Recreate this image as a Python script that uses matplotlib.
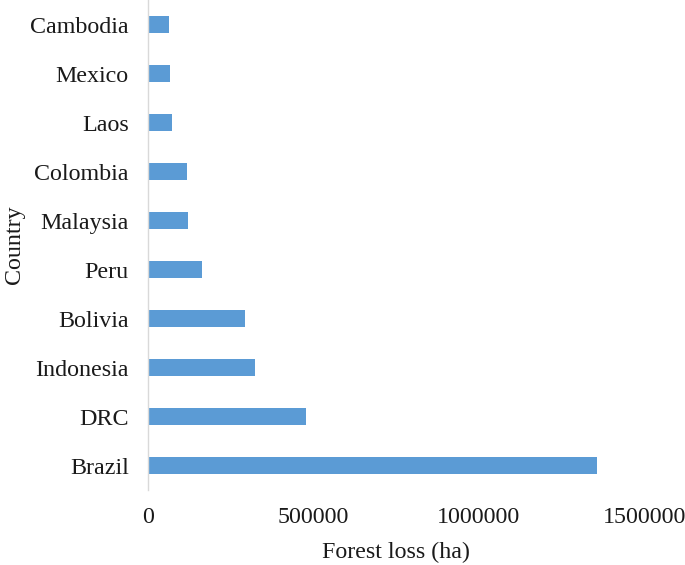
#imports
import matplotlib
matplotlib.use('Agg')
from matplotlib import pyplot as plt

#data (forest loss in hectares)
countries = ['Brazil', 'DRC', 'Indonesia', 'Bolivia', 'Peru',
             'Malaysia', 'Colombia', 'Laos', 'Mexico', 'Cambodia']
forest_loss = [1357000, 476000, 323600, 291500, 163300,
               121000, 116100, 72600, 66500, 63500]
x_ticks = [0, 500000, 1000000, 1500000]

plt.rcParams['font.family'] = ['Liberation Serif', 'DejaVu Serif']

fig = plt.figure(figsize=(6.85, 5.65), dpi=100)
ax = fig.add_axes([0.2165, 0.1327, 0.7241, 0.8673])

ax.barh(countries, forest_loss, height=0.35, color='#5B9BD5')

#axis limits so the category bands fill the plot
ax.set_ylim(-0.5, len(countries) - 0.5)
ax.set_xlim(0, 1500000)
ax.set_xticks(x_ticks)
ax.set_xticklabels([str(t) for t in x_ticks])

#only the light grey vertical axis line is kept
for side in ['top', 'right', 'bottom']:
    ax.spines[side].set_visible(False)
ax.spines['left'].set_color('#d9d9d9')
ax.spines['left'].set_linewidth(1.0)
ax.tick_params(axis='both', length=0, labelsize=17.3, colors='#1a1a1a')
ax.tick_params(axis='y', pad=14)
ax.tick_params(axis='x', pad=12)

ax.set_xlabel('Forest loss (ha)', fontsize=17.3, color='#1a1a1a', labelpad=10)
ax.set_ylabel('Country', fontsize=17.3, color='#1a1a1a', labelpad=4)

fig.savefig('out.png', dpi=100)
